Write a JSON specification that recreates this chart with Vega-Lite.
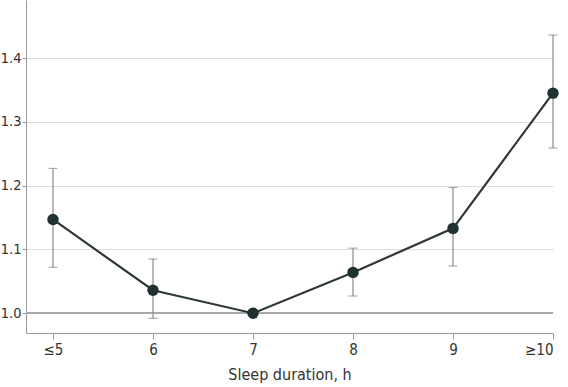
{
  "$schema": "https://vega.github.io/schema/vega-lite/v6.json",
  "width": 527,
  "height": 333,
  "autosize": "none",
  "padding": {"left": 26, "top": 0, "right": 15, "bottom": 54},
  "background": "white",
  "config": {
    "view": {"stroke": null},
    "font": "DejaVu Sans Condensed, Liberation Sans Narrow, sans-serif",
    "axis": {
      "labelFont": "DejaVu Sans Condensed, Liberation Sans Narrow, sans-serif",
      "titleFont": "DejaVu Sans Condensed, Liberation Sans Narrow, sans-serif",
      "labelFontSize": 15,
      "titleFontSize": 16,
      "titleFontWeight": "normal",
      "labelColor": "#333333",
      "titleColor": "#333333",
      "domainColor": "#9a9a9a",
      "tickColor": "#9a9a9a",
      "gridColor": "#dedede",
      "tickSize": 6
    }
  },
  "data": {
    "values": [
      {"h": 5, "or": 1.147, "lo": 1.072, "hi": 1.227},
      {"h": 6, "or": 1.036, "lo": 0.992, "hi": 1.085},
      {"h": 7, "or": 1.0, "lo": null, "hi": null},
      {"h": 8, "or": 1.064, "lo": 1.027, "hi": 1.102},
      {"h": 9, "or": 1.133, "lo": 1.074, "hi": 1.197},
      {"h": 10, "or": 1.345, "lo": 1.259, "hi": 1.436}
    ]
  },
  "encoding": {
    "x": {
      "field": "h",
      "type": "quantitative",
      "scale": {"domain": [4.73, 10], "nice": false, "zero": false},
      "axis": {
        "values": [5, 6, 7, 8, 9, 10],
        "labelExpr": "datum.value == 5 ? '≤5' : datum.value == 10 ? '≥10' : datum.label",
        "grid": false,
        "title": "Sleep duration, h",
        "labelPadding": 3,
        "titlePadding": 9
      }
    }
  },
  "layer": [
    {
      "mark": {"type": "rule", "color": "#a8a8a8", "strokeWidth": 1.2},
      "encoding": {
        "y": {
          "datum": 1.0,
          "type": "quantitative",
          "scale": {"domain": [0.969, 1.491], "nice": false, "zero": false},
          "axis": {
            "values": [1.0, 1.1, 1.2, 1.3, 1.4],
            "format": ".1f",
            "grid": true,
            "title": null,
            "tickSize": 4,
            "labelPadding": 1,
            "labelFontSize": 14.5
          }
        },
        "x": {"value": 0},
        "x2": {"value": 527}
      }
    },
    {
      "mark": {"type": "rule", "color": "#8a8a8a", "strokeWidth": 1.2},
      "encoding": {
        "y": {"field": "lo", "type": "quantitative"},
        "y2": {"field": "hi"}
      }
    },
    {
      "mark": {"type": "tick", "orient": "horizontal", "color": "#8a8a8a", "size": 9, "thickness": 1.2},
      "encoding": {"y": {"field": "lo", "type": "quantitative"}}
    },
    {
      "mark": {"type": "tick", "orient": "horizontal", "color": "#8a8a8a", "size": 9, "thickness": 1.2},
      "encoding": {"y": {"field": "hi", "type": "quantitative"}}
    },
    {
      "mark": {"type": "line", "color": "#2e3838", "strokeWidth": 2.2},
      "encoding": {"y": {"field": "or", "type": "quantitative"}}
    },
    {
      "mark": {"type": "point", "filled": true, "color": "#1f3131", "size": 130, "opacity": 1},
      "encoding": {"y": {"field": "or", "type": "quantitative"}}
    }
  ]
}
